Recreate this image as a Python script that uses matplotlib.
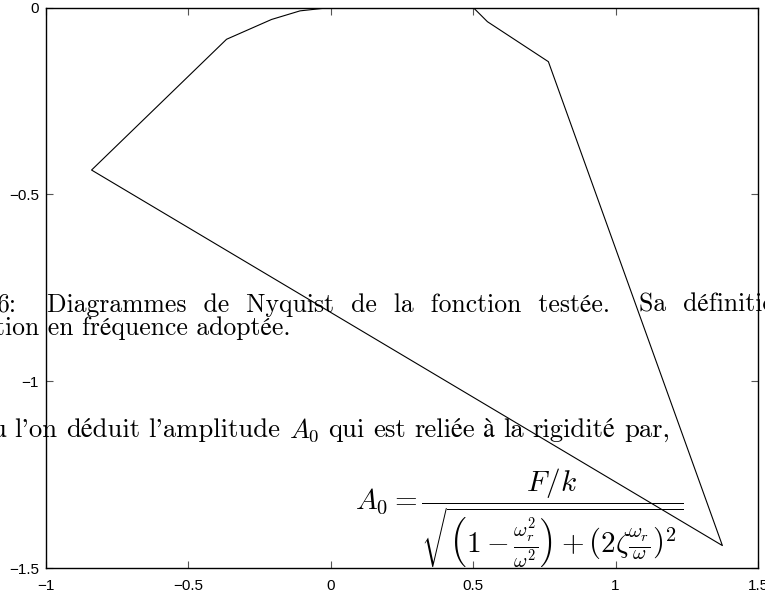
import matplotlib
matplotlib.use("Agg")
from matplotlib import pyplot as plt

re_part = [0.5, 0.55, 0.764, 1.375, -0.840, -0.366, -0.208, -0.108, 0.0]
im_part = [0.0, -0.038, -0.145, -1.440, -0.435, -0.085, -0.032, -0.009, 0.0]

x_ticks = [-1, -0.5, 0, 0.5, 1, 1.5]
x_labels = ["\u22121", "\u22120.5", "0", "0.5", "1", "1.5"]
y_ticks = [-1.5, -1, -0.5, 0]
y_labels = ["\u22121.5", "\u22121", "\u22120.5", "0"]

W, H = 765, 596
plt.rcParams["mathtext.fontset"] = "cm"
fig = plt.figure(figsize=(W / 100, H / 100), dpi=100)
ax = fig.add_axes([46 / W, 1 - 568 / H, 712 / W, 560.5 / H])

ax.plot(re_part, im_part, color="black", linewidth=0.8)
ax.set_xlim(-1, 1.5)
ax.set_ylim(-1.5, 0)
ax.set_xticks(x_ticks)
ax.set_xticklabels(x_labels)
ax.set_yticks(y_ticks)
ax.set_yticklabels(y_labels)
ax.tick_params(direction="in", length=5, width=0.8, color="#555555",
               top=True, right=True, labelsize=11)
ax.tick_params(axis="x", pad=8)
ax.tick_params(axis="y", pad=5)
for lab in ax.get_xticklabels() + ax.get_yticklabels():
    lab.set_family("Liberation Sans")
for s in ax.spines.values():
    s.set_linewidth(1.0)

# bits of the document page printed over the figure
serif = ["cmr10", "STIXGeneral", "DejaVu Serif"]
renderer = fig.canvas.get_renderer()


def px(x, y):
    return x / W, 1 - y / H


def put(x, y, s, fs=18.5):
    return fig.text(*px(x, y), s, family=serif, fontsize=fs, va="baseline")


def words_line(x, y, words, gap, fs):
    # lay words out one after the other, like a justified line
    for w in words:
        if w.startswith("$"):
            t = fig.text(*px(x, y), w, fontsize=fs, va="baseline")
        else:
            t = put(x, y, w, fs)
        x = t.get_window_extent(renderer).x1 + gap


put(-3, 312, "6:")
put(47, 312, "Diagrammes  de  Nyquist  de  la  fonction  testée.")
put(639, 312, "Sa  définition")
put(-5, 335, "tion en fréquence adoptée.")

line3 = ["u", "l'on", "déduit", "l'amplitude", "$A_0$", "qui", "est",
         "reliée", "à", "la", "rigidité", "par,"]
words_line(-9, 437, line3, 8.5, 19.2)

fig.text(*px(355, 519),
         r"$A_0 = \dfrac{F/k}{\sqrt{\left(1-\frac{\omega_r^2}{\omega^2}\right)+\left(2\zeta\frac{\omega_r}{\omega}\right)^2}}$",
         fontsize=21, va="center")

fig.savefig("out.png", dpi=100)
